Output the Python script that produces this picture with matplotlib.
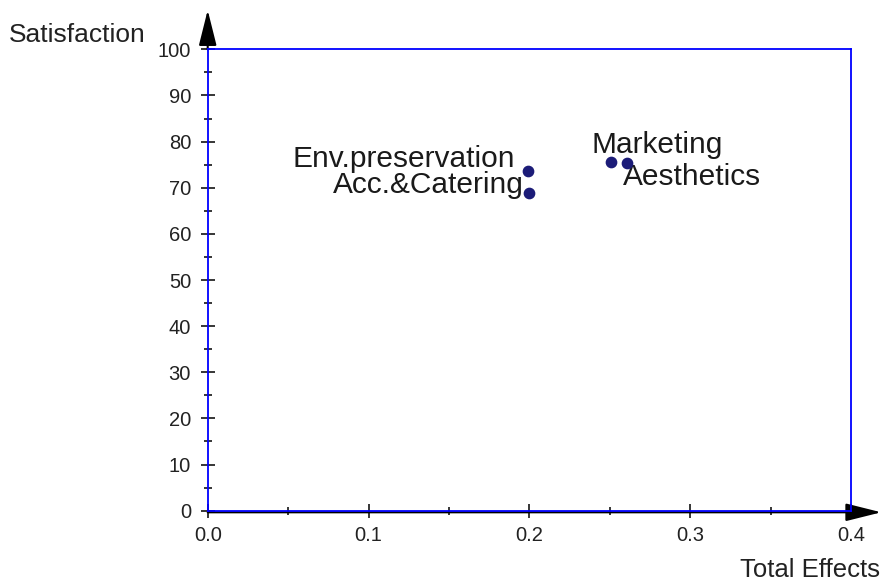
import matplotlib
matplotlib.use("Agg")
import matplotlib.pyplot as plt
import matplotlib.transforms as mtransforms
from matplotlib.patches import ArrowStyle

plt.rcParams['font.family'] = ['Liberation Sans', 'DejaVu Sans']

# Data
labels = ["Env.preservation", "Acc.&Catering", "Marketing", "Aesthetics"]
total_effects = [0.199, 0.200, 0.251, 0.2605]
satisfaction = [73.6, 68.9, 75.5, 75.3]
x_ticks = [0.0, 0.1, 0.2, 0.3, 0.4]
x_tick_labels = ["0.0", "0.1", "0.2", "0.3", "0.4"]
y_ticks = [0, 10, 20, 30, 40, 50, 60, 70, 80, 90, 100]

# label placement (offset points, alignment)
label_style = {
    "Env.preservation": ((-9.0, 3.0), "right"),
    "Acc.&Catering": ((-4.0, -0.3), "right"),
    "Marketing": ((-14.5, 6.5), "left"),
    "Aesthetics": ((-2.6, -15.6), "left"),
}

fig = plt.figure(figsize=(8.81, 5.81), dpi=100)
ax = fig.add_axes([207.7 / 881, 1 - 510.7 / 581, (851 - 207.7) / 881, (510.7 - 49.3) / 581])

ax.scatter(total_effects, satisfaction, s=55, color="#1c1c78", zorder=4, clip_on=False)
for lab, x, y in zip(labels, total_effects, satisfaction):
    off, ha = label_style[lab]
    ax.annotate(lab, (x, y), xytext=off, textcoords="offset points",
                ha=ha, va="baseline", fontsize=21.5, color="#1a1a1a")

ax.set_xlim(0, 0.4)
ax.set_ylim(0, 100)
ax.set_xticks(x_ticks)
ax.set_xticklabels(x_tick_labels)
ax.set_yticks(y_ticks)
ax.set_xticks([0.05, 0.15, 0.25, 0.35], minor=True)
ax.set_yticks([5, 15, 25, 35, 45, 55, 65, 75, 85, 95], minor=True)

for sp in ax.spines.values():
    sp.set_color("#0000ff")
    sp.set_linewidth(1.3)
    sp.set_zorder(3)

ax.tick_params(which="major", direction="inout", length=10, width=1.1, color="black",
               labelsize=14.5, labelcolor="#222222")
ax.tick_params(which="minor", direction="inout", length=6, width=1.1, color="black")
ax.tick_params(axis="x", which="major", pad=6)
ax.tick_params(axis="y", which="major", pad=7)

# Axis arrows
style = ArrowStyle("-|>", head_length=2.2, head_width=0.55)
trans_bottom = mtransforms.offset_copy(ax.transAxes, fig=fig, x=0, y=-1.6, units="dots")
ax.annotate("", xy=(1.047, 0), xycoords=trans_bottom, xytext=(0, 0), textcoords=trans_bottom,
            arrowprops=dict(arrowstyle=style, color="black", lw=1.5, shrinkA=0, shrinkB=0),
            annotation_clip=False, zorder=2)
ax.annotate("", xy=(0, 1.085), xycoords="axes fraction", xytext=(0, 1.0), textcoords="axes fraction",
            arrowprops=dict(arrowstyle=style, color="black", lw=1.5, shrinkA=0, shrinkB=0),
            annotation_clip=False, zorder=2)

fig.text(9 / 881, 1 - 42.3 / 581, "Satisfaction", fontsize=19, ha="left", va="baseline", color="#222222")
fig.text(879.5 / 881, 1 - 577 / 581, "Total Effects", fontsize=18.5, ha="right", va="baseline", color="#222222")

fig.savefig("out.png", dpi=100)
